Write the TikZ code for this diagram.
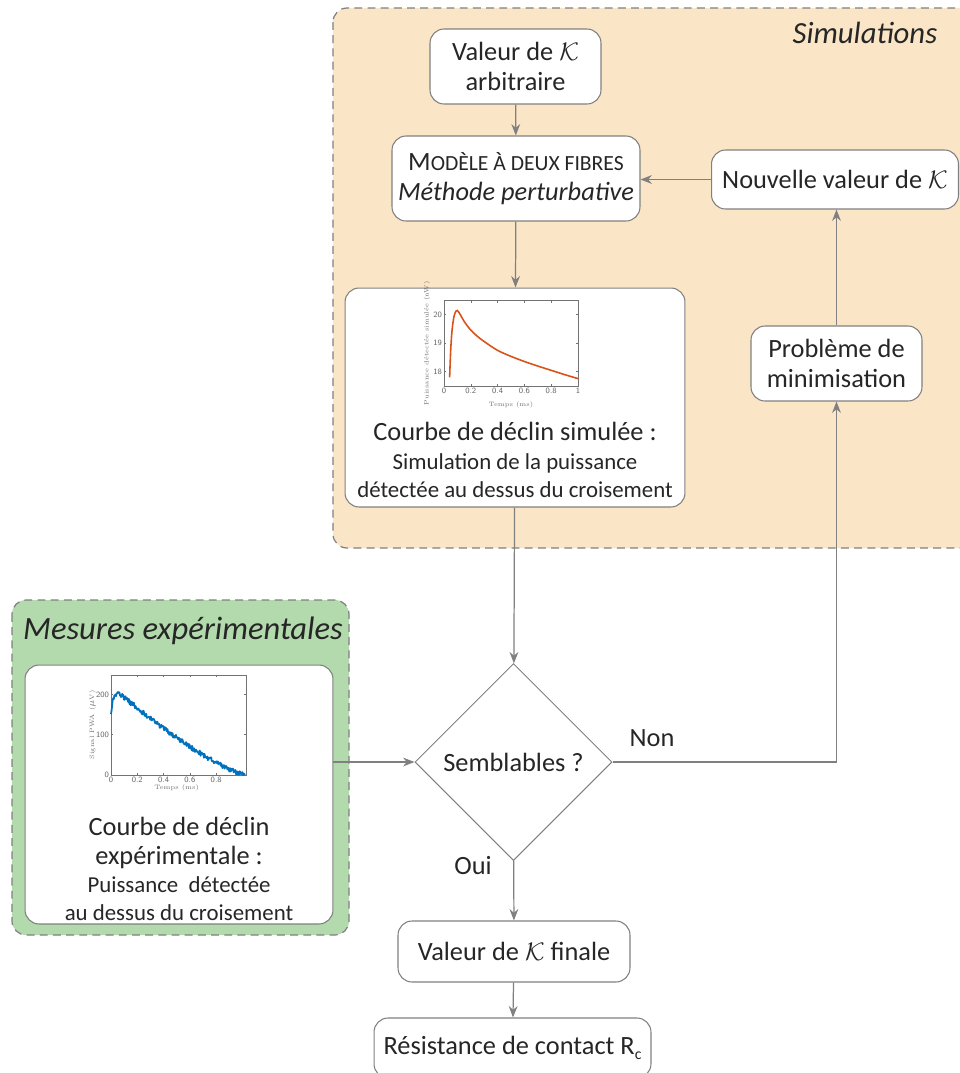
\documentclass[tikz,border=0pt]{standalone}
\usepackage{fontspec}
\newfontfamily\carlito{Carlito}
\usetikzlibrary{shapes.geometric,arrows.meta,positioning}
\definecolor{simbg}{RGB}{250,229,199}
\definecolor{expbg}{RGB}{178,218,172}
\definecolor{edgegray}{RGB}{128,128,128}
\definecolor{inkgray}{RGB}{38,38,38}
\definecolor{simred}{RGB}{217,83,25}
\definecolor{expblue}{RGB}{0,114,189}
\newcommand\smallline{\fontsize{13}{14.6}\selectfont}
\begin{document}
\begin{tikzpicture}[x=0.02cm,y=-0.02cm,
  box/.style={draw=edgegray, fill=white, rounded corners=8pt, line width=0.6pt, align=center, text=inkgray, font=\carlito\fontsize{15}{17.5}\selectfont},
  txt/.style={align=center, text=inkgray, font=\carlito\fontsize{15}{16}\selectfont},
  decision/.style={diamond, aspect=1, draw=edgegray, fill=white, line width=0.6pt, minimum size=3.94cm, inner sep=0pt, text=inkgray, font=\carlito\fontsize{15}{17.5}\selectfont},
  zone/.style={draw=edgegray, line width=0.7pt, dash pattern=on 4.5pt off 3pt, rounded corners=8pt},
  zonetitle/.style={text=inkgray, font=\carlito\itshape\fontsize{17.5}{20}\selectfont},
  flow/.style={draw=edgegray, line width=0.7pt, -{Stealth[length=6.5pt,width=5pt]}},
  ticklbl/.style={text=black!60, inner sep=1pt, font=\sffamily\fontsize{4.6}{5}\selectfont},
  plotlbl/.style={text=black!55, inner sep=0pt, font=\fontsize{3.6}{4}\selectfont},
  axisbox/.style={draw=black!55, line width=0.3pt}]
\useasboundingbox (0,0) rectangle (960,1073);

% zones
\draw[zone, fill=simbg] (333,8) rectangle (990,548);
\draw[zone, fill=expbg] (12,600) rectangle (349,935);
\node[zonetitle] (simtitle) at (865,33) {Simulations};
\node[zonetitle, font=\carlito\itshape\fontsize{18.5}{22}\selectfont] (mestitle) at (183,631) {Mesures expérimentales};

% boxes
\node[box, minimum width=3.42cm, minimum height=1.5cm] (val) at (515.5,66.5) {Valeur de $\mathcal{K}$\\arbitraire};
\node[box, minimum width=4.96cm, minimum height=1.7cm] (mod) at (516,178.5) {M{\fontsize{12.3}{14}\selectfont ODÈLE À DEUX FIBRES}\\\itshape Méthode perturbative};
\node[box, minimum width=4.94cm, minimum height=1.18cm] (nouv) at (835,179.5) {Nouvelle valeur de $\mathcal{K}$};
\node[box, minimum width=6.8cm, minimum height=4.38cm] (sim) at (515,397.5) {};
\node[txt] (simtxt) at (515,460) {Courbe de déclin simulée :\\\smallline Simulation de la puissance\\\smallline détectée au dessus du croisement};
\node[box, minimum width=3.42cm, minimum height=1.5cm] (prob) at (836.5,363.5) {Problème de\\minimisation};
\node[box, minimum width=6.16cm, minimum height=5.18cm] (exp) at (179,794.5) {};
\node[txt] (exptxt) at (179,869) {Courbe de déclin\\expérimentale :\\\smallline Puissance~ détectée\\\smallline au dessus du croisement};
\node[decision] (semb) at (513.5,762) {Semblables ?};
\node[box, minimum width=4.64cm, minimum height=1.22cm] (fin) at (514,951.5) {Valeur de $\mathcal{K}$ finale};
\node[box, minimum width=5.54cm, minimum height=1.2cm] (res) at (512.5,1048) {Résistance de contact R\raisebox{-0.45ex}{\fontsize{9}{10}\selectfont c}};
\node[txt] (non) at (652,738) {Non};
\node[txt] (oui) at (473,866) {Oui};

% simulated curve
\begin{scope}[shift={(444,386)}, xscale=134, yscale=-28.5]
  \draw[axisbox] (0,0) rectangle (1,3);
  \foreach \t [count=\i] in {0,0.2,0.4,0.6,0.8,1} {
    \draw[axisbox] (\t,0) -- (\t,0.07) (\t,3) -- (\t,2.93);
    \node[ticklbl, below] (stx\i) at (\t,0) {\t};
  }
  \foreach \v/\l [count=\i] in {0.5/18,1.5/19,2.5/20} {
    \draw[axisbox] (0,\v) -- (0.015,\v) (1,\v) -- (0.985,\v);
    \node[ticklbl, left] (sty\i) at (0,\v) {\l};
  }
  \node[plotlbl] (sxlab) at (0.5,-0.68) {Temps (ms)};
  \node[plotlbl, rotate=90] (sylab) at (-0.127,1.5) {Puissance détectée simulée (nW)};
  \draw[simred, line width=0.9pt] plot[smooth, tension=0.55] coordinates {(0.042,0.3) (0.05,1.25) (0.06,1.95) (0.075,2.45) (0.09,2.63) (0.1,2.65) (0.12,2.52) (0.15,2.27) (0.2,1.96) (0.25,1.74) (0.3,1.56) (0.4,1.25) (0.5,1.04) (0.6,0.86) (0.7,0.70) (0.8,0.55) (0.9,0.40) (1,0.26)};
\end{scope}

% measured curve
\begin{scope}[shift={(111,775)}, xscale=131.5, yscale=-0.4033]
  \pgfmathsetseed{7}
  \draw[axisbox] (0,0) rectangle (1.03,248);
  \foreach \t [count=\i] in {0,0.2,0.4,0.6,0.8} {
    \draw[axisbox] (\t,0) -- (\t,5) (\t,248) -- (\t,243);
    \node[ticklbl, below] (etx\i) at (\t,0) {\t};
  }
  \foreach \v [count=\i] in {0,100,200} {
    \draw[axisbox] (0,\v) -- (0.015,\v) (1.03,\v) -- (1.015,\v);
    \node[ticklbl, left] (ety\i) at (0,\v) {\v};
  }
  \node[plotlbl] (exlab) at (0.5,-33) {Temps (ms)};
  \node[plotlbl, rotate=90] (eylab) at (-0.14,124) {Signal PWA ($\mu$V)};
  \draw[expblue, line width=1pt, line join=round] plot[domain=0:1.02, samples=240, variable=\t]
    ({\t},{max(0,(1-\t/1.025)^1.3*(220-70*exp(-min(\t/0.02,9)))+6*rand)});
\end{scope}

% connectors
\draw[flow] (val) -- (mod);
\draw[flow] (nouv.west) -- (nouv.west -| mod.east);
\draw[flow] (mod) -- (sim);
\draw[flow] (sim) -- (semb);
\draw[flow] (exp.east |- semb.west) -- (semb.west);
\draw[flow] (semb.east) -| (prob.south);
\draw[flow] (prob.north) -- (prob.north |- nouv.south);
\draw[flow] (semb) -- (fin);
\draw[flow] (fin) -- (res);
\end{tikzpicture}
\end{document}
